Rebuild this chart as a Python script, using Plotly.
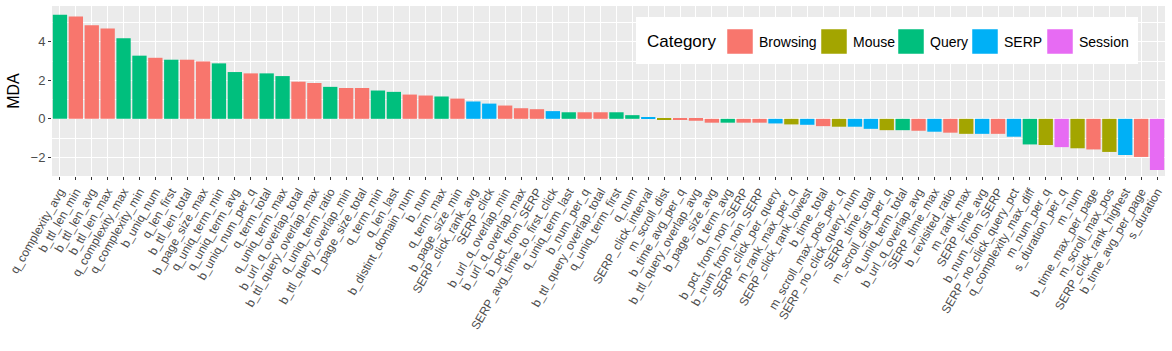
import plotly.graph_objects as go

# feature names in plotted order (sorted by MDA, descending)
features = [
    "q_complexity_avg", "b_ttl_len_min", "b_ttl_len_avg", "b_ttl_len_max",
    "q_complexity_max", "q_complexity_min", "b_uniq_num", "q_len_first",
    "b_ttl_len_total", "b_page_size_max", "q_uniq_term_min", "q_uniq_term_avg",
    "b_uniq_num_per_q", "q_term_total", "q_uniq_term_max", "b_url_q_overlap_total",
    "b_ttl_query_overlap_max", "q_uniq_term_ratio", "b_ttl_query_overlap_min",
    "b_page_size_total", "q_term_min", "q_len_last", "b_distint_domain_num",
    "b_num", "q_term_max", "b_page_size_min", "SERP_click_rank_avg", "SERP_click",
    "b_url_q_overlap_min", "b_url_q_overlap_max", "b_pct_from_SERP",
    "SERP_avg_time_to_first_click", "q_uniq_term_last", "b_num_per_q",
    "b_ttl_query_overlap_total", "q_uniq_term_first", "q_num",
    "SERP_click_interval", "m_scroll_dist", "b_time_avg_per_q",
    "b_ttl_query_overlap_avg", "b_page_size_avg", "q_term_avg",
    "b_pct_from_non_SERP", "b_num_from_non_SERP", "SERP_click_per_query",
    "m_rank_max_per_q", "SERP_click_rank_lowest", "b_time_total",
    "m_scroll_max_pos_per_q", "SERP_no_click_query_num", "SERP_time_total",
    "m_scroll_dist_per_q", "q_uniq_term_total", "b_url_q_overlap_avg",
    "SERP_time_max", "b_revisited_ratio", "m_rank_max", "SERP_time_avg",
    "b_num_from_SERP", "SERP_no_click_query_pct", "q_complexity_max_diff",
    "m_num_per_q", "s_duration_per_q", "m_num", "b_time_max_per_page",
    "m_scroll_max_pos", "SERP_click_rank_highest", "b_time_avg_per_page",
    "s_duration",
]

mda = [
    5.41, 5.31, 4.86, 4.69, 4.19, 3.28, 3.17, 3.07, 3.07, 2.98,
    2.88, 2.43, 2.36, 2.36, 2.22, 1.93, 1.86, 1.66, 1.60, 1.60,
    1.47, 1.40, 1.26, 1.21, 1.16, 1.05, 0.90, 0.79, 0.69, 0.55,
    0.50, 0.40, 0.34, 0.34, 0.34, 0.34, 0.19, 0.05, -0.05, -0.04,
    -0.10, -0.20, -0.20, -0.20, -0.20, -0.24, -0.29, -0.31, -0.38, -0.41,
    -0.41, -0.52, -0.59, -0.59, -0.62, -0.67, -0.72, -0.78, -0.78, -0.78,
    -0.93, -1.33, -1.36, -1.47, -1.53, -1.59, -1.72, -1.88, -1.98, -2.66,
]

# feature prefix -> category
prefix_category = {"b": "Browsing", "m": "Mouse", "q": "Query", "SERP": "SERP", "s": "Session"}
categories = ["Browsing", "Mouse", "Query", "SERP", "Session"]
category_colors = ["#F8766D", "#A3A500", "#00BF7D", "#00B0F6", "#E76BF3"]

feature_cat = [prefix_category[f.split("_")[0]] for f in features]

W, H = 1172, 351
ML, MR, MT, MB = 52, 7, 6, 175
font = "Liberation Sans, Arial, sans-serif"

fig = go.Figure()

# one trace per category (ggplot fill = Category)
for cat, col in zip(categories, category_colors):
    xs = [f for f, c in zip(features, feature_cat) if c == cat]
    ys = [v for v, c in zip(mda, feature_cat) if c == cat]
    fig.add_trace(go.Bar(
        x=xs, y=ys,
        name=cat,
        marker=dict(color=col, line=dict(width=0)),
        width=0.9,
        showlegend=False,
    ))


# --- legend drawn by hand so the keys are ggplot-sized squares ---
def px_x(p):
    return (p - ML) / (W - ML - MR)


def px_y(p):
    return (H - MB - p) / (H - MT - MB)


shapes = [dict(
    type="rect", xref="paper", yref="paper",
    x0=px_x(636), x1=px_x(1138), y0=px_y(64), y1=px_y(17),
    fillcolor="white", line=dict(width=0), layer="above",
)]
annotations = [dict(
    text="Category", xref="paper", yref="paper",
    x=px_x(645), y=px_y(41), xanchor="left", yanchor="middle",
    showarrow=False, font=dict(size=17, color="black", family=font),
)]
key_left = [727, 821, 898, 972, 1047]
for cat, col, kx in zip(categories, category_colors, key_left):
    shapes.append(dict(
        type="rect", xref="paper", yref="paper",
        x0=px_x(kx), x1=px_x(kx + 26), y0=px_y(54), y1=px_y(29),
        fillcolor=col, line=dict(color="white", width=0.5), layer="above",
    ))
    annotations.append(dict(
        text=cat, xref="paper", yref="paper",
        x=px_x(kx + 30), y=px_y(42), xanchor="left", yanchor="middle",
        showarrow=False, font=dict(size=14, color="black", family=font),
    ))

fig.update_layout(
    barmode="overlay",
    width=W,
    height=H,
    margin=dict(l=ML, r=MR, t=MT, b=MB, autoexpand=False),
    paper_bgcolor="white",
    plot_bgcolor="#EBEBEB",
    font=dict(family=font, color="#4D4D4D"),
    showlegend=False,
    shapes=shapes,
    annotations=annotations,
    xaxis=dict(
        categoryorder="array",
        categoryarray=features,
        tickangle=-60,
        tickfont=dict(size=12, color="#4D4D4D"),
        showgrid=True,
        gridcolor="white",
        gridwidth=1.2,
        ticks="outside",
        ticklen=3,
        tickcolor="#333333",
        zeroline=False,
        automargin=False,
        range=[-0.5, len(features) - 0.5],
    ),
    yaxis=dict(
        title=dict(text="MDA", font=dict(size=16, color="black"), standoff=6),
        range=[-2.97, 5.86],
        tickvals=[-2, 0, 2, 4],
        tickfont=dict(size=13, color="#4D4D4D"),
        showgrid=True,
        gridcolor="white",
        gridwidth=1.2,
        minor=dict(tickvals=[-3, -1, 1, 3, 5], showgrid=True, gridcolor="white", gridwidth=0.5),
        ticks="outside",
        ticklen=3,
        tickcolor="#333333",
        zeroline=False,
        automargin=False,
    ),
)

# drop the browser's default 8px body margin so the figure sits at (0, 0)
fig.write_html(
    "out.html",
    config={"displayModeBar": False},
    post_script="document.body.style.margin = '0';",
)
